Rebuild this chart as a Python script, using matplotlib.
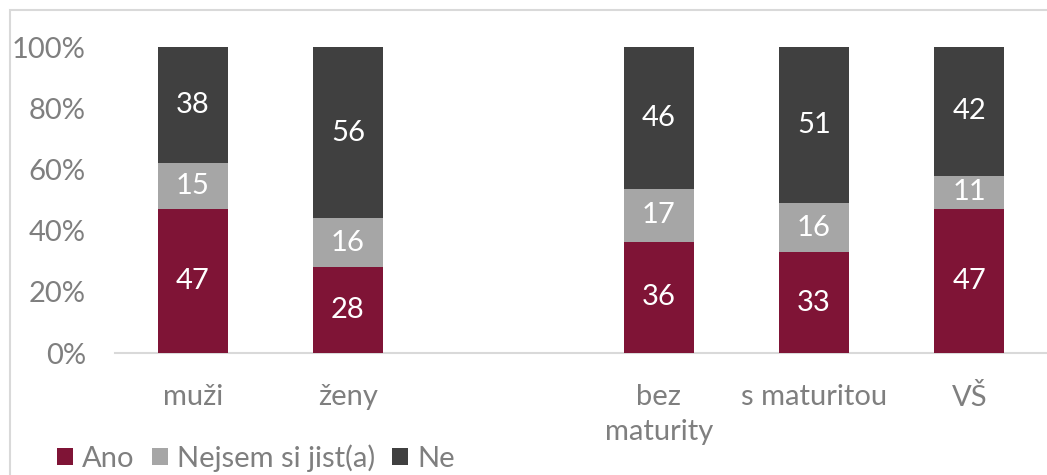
import matplotlib
matplotlib.use("Agg")
import matplotlib.pyplot as plt
import numpy as np
from matplotlib.patches import Rectangle, Patch

plt.rcParams['font.family'] = ['Lato', 'DejaVu Sans']

categories = ["muži", "ženy", "", "bez\nmaturity", "s maturitou", "VŠ"]
ano = [47, 28, None, 36, 33, 47]
nejsem = [15, 16, None, 17, 16, 11]
ne = [38, 56, None, 46, 51, 42]
series_names = ["Ano", "Nejsem si jist(a)", "Ne"]
colors = ["#7F1436", "#A6A6A6", "#404040"]
yticks = [0, 20, 40, 60, 80, 100]

FS = 21

fig = plt.figure(figsize=(10.47, 4.75), dpi=100)
ax = fig.add_axes([115/1047, (475-353)/475, 1 - 115/1047, (353-47)/475])

x = np.arange(len(categories))
width = 0.45
for i, c in enumerate(categories):
    if ano[i] is None:
        continue
    vals = [ano[i], nejsem[i], ne[i]]
    tot = sum(vals)
    bottom = 0
    for j, v in enumerate(vals):
        h = v / tot * 100
        ax.bar(x[i], h, width, bottom=bottom, color=colors[j], label=series_names[j], zorder=3)
        ax.text(x[i], bottom + h / 2, str(v), ha='center', va='center', color='white', fontsize=FS, zorder=4)
        bottom += h

ax.set_xlim(-0.5, 5.5)
ax.set_ylim(0, 100)
ax.set_yticks(yticks)
ax.set_yticklabels([f"{t}%" for t in yticks], fontsize=FS, color='#7F7F7F')
ax.set_xticks(x)
ax.set_xticklabels(categories, fontsize=FS, color='#7F7F7F', linespacing=1.45, va='top')
ax.tick_params(axis='both', length=0)
ax.tick_params(axis='x', pad=22)
ax.tick_params(axis='y', pad=21)
for s in ['top', 'right', 'left']:
    ax.spines[s].set_visible(False)
ax.spines['bottom'].set_color('#D9D9D9')
ax.spines['bottom'].set_linewidth(1.5)

leg_handles = [Patch(facecolor=colors[k], label=series_names[k]) for k in range(3)]
leg = fig.legend(handles=leg_handles, loc='center left', bbox_to_anchor=(57/1047, 1 - 458/475),
                 ncol=3, frameon=False, fontsize=FS, handlelength=0.55, handleheight=0.55,
                 handletextpad=0.3, columnspacing=0.6, borderaxespad=0, borderpad=0)
for t in leg.get_texts():
    t.set_color('#7F7F7F')

fig.patches.append(Rectangle((10/1047, -0.1), 1.2, 1 - 10/475 + 0.1, transform=fig.transFigure,
                             fill=False, edgecolor='#D9D9D9', linewidth=1.5, zorder=0))

fig.savefig("out.png", dpi=100)
